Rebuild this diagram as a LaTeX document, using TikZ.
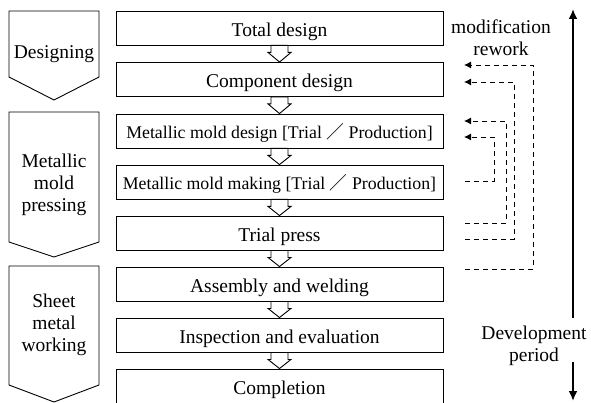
\documentclass[tikz,border=0pt]{standalone}
\usepackage{fontspec}
\setmainfont{Liberation Serif}
\newfontfamily\cjkfont{Noto Sans CJK JP}
\usetikzlibrary{arrows.meta,calc}
\newcommand{\fwslash}{{\cjkfont ／}}
\begin{document}
\begin{tikzpicture}[x=1pt,y=-1pt,
  stepbox/.style={draw, line width=0.9pt, minimum width=327pt, minimum height=34pt, inner sep=0pt, text height=17pt, text depth=0pt, font=\fontsize{19.5}{22}\selectfont},
  smalltext/.style={font=\fontsize{17.8}{20}\selectfont, text height=15.5pt},
  phase/.style={draw, line width=0.9pt, line join=miter},
  lbl/.style={align=center, inner sep=0pt, font=\fontsize{19.5}{22}\selectfont},
  hollow/.style={draw, line width=0.9pt, fill=white, line join=miter},
  rework/.style={draw, dash pattern=on 5pt off 4pt, line width=0.9pt, -{Latex[length=7pt,width=7pt]}},
  period/.style={line width=2pt, -{Latex[length=10pt,width=9pt]}}
]
\useasboundingbox (0,0) rectangle (591,403);

% main step boxes
\node[stepbox] (b1) at (279.5,28) {Total design};
\node[stepbox] (b2) at (279.5,79.5) {Component design};
\node[stepbox,smalltext] (b3) at (279.5,131) {Metallic mold design [Trial \fwslash\ Production]};
\node[stepbox,smalltext] (b4) at (279.5,182) {Metallic mold making [Trial \fwslash\ Production]};
\node[stepbox] (b5) at (279.5,233) {Trial press};
\node[stepbox] (b6) at (279.5,284) {Assembly and welding};
\node[stepbox] (b7) at (279.5,335) {Inspection and evaluation};
\node[stepbox] (b8) at (279.5,386) {Completion};

% hollow arrows between boxes
\foreach \a/\b in {b1/b2,b2/b3,b3/b4,b4/b5,b5/b6,b6/b7,b7/b8} {
  \draw[hollow] ($(\a.south)+(-8.5,0)$) -- ++(0,7) -- ++(-3,0) -- (\b.north)
    -- ($(\a.south)+(11.5,7)$) -- ++(-3,0) -- ($(\a.south)+(8.5,0)$) -- cycle;
}

% left phase arrows
\draw[phase] (9,11) -- (99,11) -- (99,77) -- (54,100) -- (9,77) -- cycle;
\draw[phase] (9,112) -- (99,112) -- (99,242) -- (54,257) -- (9,242) -- cycle;
\draw[phase] (9,266) -- (99,266) -- (99,385) -- (54,402) -- (9,385) -- cycle;
\node[lbl] (p1) at (54,54) {Designing};
\node[lbl] (p2) at (54,184.5) {Metallic\\mold\\pressing};
\node[lbl] (p3) at (54,324.5) {Sheet\\metal\\working};

% right labels
\node[lbl] (mod) at (501,37.5) {modification\\rework};
\node[lbl] (dev) at (534,346) {Development\\period};

% rework loops
\coordinate (rAs) at (465,269); \coordinate (rAk) at (533,65);  \coordinate (rAe) at (464,65);
\coordinate (rBs) at (465,239); \coordinate (rBk) at (514,82);  \coordinate (rBe) at (464,82);
\coordinate (rCs) at (465,223); \coordinate (rCk) at (506,121); \coordinate (rCe) at (464,121);
\coordinate (rDs) at (465,181); \coordinate (rDk) at (494,137); \coordinate (rDe) at (464,137);
\draw[rework] (rAs) -| (rAk) -- (rAe);
\draw[rework] (rBs) -| (rBk) -- (rBe);
\draw[rework] (rCs) -| (rCk) -- (rCe);
\draw[rework] (rDs) -| (rDk) -- (rDe);

% development period arrow
\coordinate (vtop) at (573,9);
\coordinate (vm1) at (573,318);
\coordinate (vm2) at (573,362);
\coordinate (vbot) at (573,401);
\draw[period] (vm1) -- (vtop);
\draw[period] (vm2) -- (vbot);
\end{tikzpicture}
\end{document}
